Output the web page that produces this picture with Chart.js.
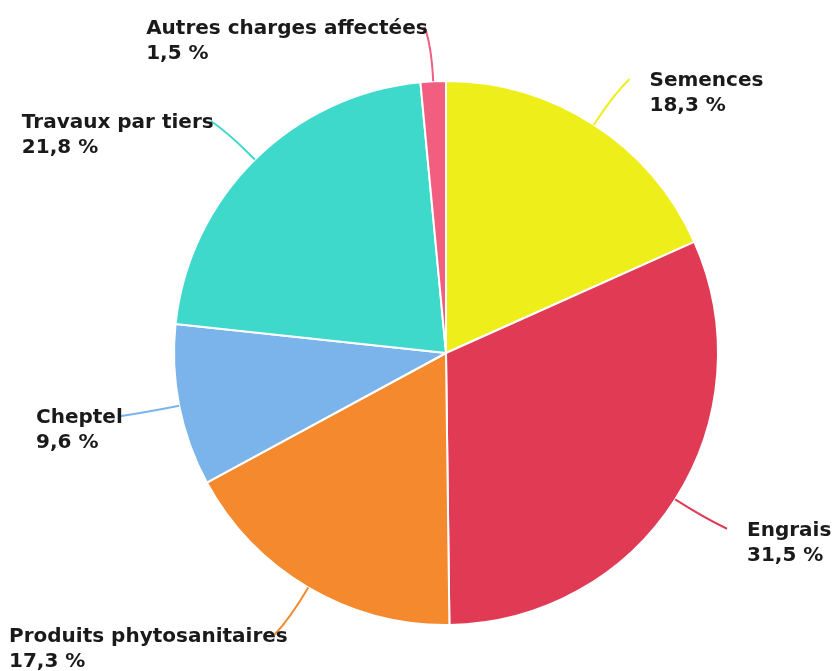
<!DOCTYPE html>
<html>
<head>
<meta charset="utf-8">
<script src="https://cdn.jsdelivr.net/npm/chart.js@4"></script>
<style>
	html, body { margin: 0; padding: 0; background: #fff; }
	#wrap { width: 836px; height: 671px; }
</style>
</head>
<body>
<div id="wrap"><canvas id="pieChart"></canvas></div>
<script>
/* data */
const categories = ['Semences', 'Engrais', 'Produits phytosanitaires', 'Cheptel', 'Travaux par tiers', 'Autres charges affectées'];
const shares = [18.3, 31.5, 17.3, 9.6, 21.8, 1.5];
const sliceColors = ['#eeee1b', '#e03a55', '#f5892d', '#7ab4ea', '#3fd9cc', '#f15e80'];

const labelFont = 'bold 20px "DejaVu Sans", sans-serif';
const fmt = v => v.toFixed(1).replace('.', ',') + ' %';

// labels outside the pie with a small curved leader line
const outLabels = {
	id: 'outLabels',
	afterDatasetsDraw(chart) {
		const ctx = chart.ctx;
		const meta = chart.getDatasetMeta(0);
		ctx.save();
		ctx.font = labelFont;
		ctx.textBaseline = 'middle';
		meta.data.forEach((arc, i) => {
			const mid = (arc.startAngle + arc.endAngle) / 2;
			const r = arc.outerRadius;
			const cx = arc.x, cy = arc.y;
			const c = Math.cos(mid), s = Math.sin(mid);
			const right = c >= 0;
			const p0 = { x: cx + c * r, y: cy + s * r };
			const p1 = { x: cx + c * r * 1.13, y: cy + s * r * 1.13 };
			const p2 = { x: cx + c * r * 1.2 + (right ? 6 : -6), y: cy + s * r * 1.2 };
			ctx.strokeStyle = sliceColors[i];
			ctx.lineWidth = 2;
			ctx.beginPath();
			ctx.moveTo(p0.x, p0.y);
			ctx.quadraticCurveTo(p1.x, p1.y, p2.x, p2.y);
			ctx.stroke();

			ctx.fillStyle = '#1a1a1a';
			const w = ctx.measureText(categories[i]).width;
			// left labels are right-aligned but kept inside the canvas
			const tx = right ? p2.x + 20 : Math.max(p2.x + 3, w + 9) - w;
			const ty = p2.y + 2;
			ctx.textAlign = 'left';
			ctx.fillText(categories[i], tx, ty);
			ctx.fillText(fmt(shares[i]), tx, ty + 25);
		});
		ctx.restore();
	}
};

function draw() {
	const ctx = document.getElementById('pieChart');
	new Chart(ctx, {
		type: 'pie',
		data: {
			labels: categories,
			datasets: [{
				data: shares,
				backgroundColor: sliceColors,
				borderColor: '#ffffff',
				borderWidth: 2
			}]
		},
		options: {
			responsive: true,
			maintainAspectRatio: false,
			animation: false,
			layout: {
				padding: { top: 80, bottom: 45, left: 173, right: 117 }
			},
			plugins: {
				legend: { display: false },
				tooltip: { enabled: false }
			}
		},
		plugins: [outLabels]
	});
}

document.fonts.load(labelFont).then(draw, draw);
</script>
</body>
</html>
